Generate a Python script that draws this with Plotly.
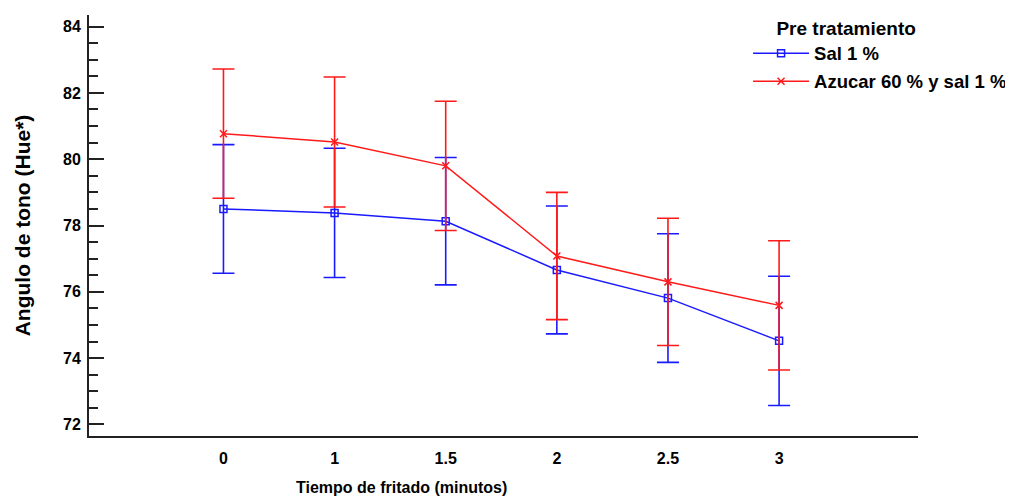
import plotly.graph_objects as go

x_labels = ["0", "1", "1.5", "2", "2.5", "3"]
sal_mean = [78.50, 78.38, 78.13, 76.66, 75.81, 74.52]
sal_err = [1.94, 1.95, 1.92, 1.93, 1.94, 1.95]
azucar_mean = [80.77, 80.52, 79.80, 77.08, 76.30, 75.59]
azucar_err = [1.95, 1.96, 1.95, 1.92, 1.92, 1.95]

series_names = ["Sal 1 %", "Azucar 60 % y sal 1 %"]
legend_title = "Pre tratamiento"
x_title = "Tiempo de fritado (minutos)"
y_title = "Angulo de tono (Hue*)"

FONT = "Liberation Sans, Arial, sans-serif"
BLUE = "#1a1aff"
RED = "#ff1a1a"

fig = go.Figure()
fig.add_trace(go.Scatter(
    x=x_labels, y=sal_mean, name=series_names[0], mode="lines+markers",
    legendgroup="g1",
    line=dict(color=BLUE, width=1.5),
    marker=dict(symbol="square-open", size=7, color=BLUE, line=dict(width=1.5, color=BLUE)),
    error_y=dict(type="data", array=sal_err, visible=True, color=BLUE, thickness=1.6, width=11),
))
fig.add_trace(go.Scatter(
    x=x_labels, y=azucar_mean, name=series_names[1], mode="lines+markers",
    legendgroup="g2",
    line=dict(color=RED, width=1.5),
    marker=dict(symbol="x-thin-open", size=7, color=RED, line=dict(width=1.5, color=RED)),
    error_y=dict(type="data", array=azucar_err, visible=True, color=RED, thickness=1.6, width=11),
))

fig.update_layout(
    width=1013, height=497,
    margin=dict(l=81, r=103, t=7, b=69, autoexpand=False),
    paper_bgcolor="white", plot_bgcolor="white",
    font=dict(family=FONT, color="black"),
    showlegend=True,
    legend=dict(
        x=0.795, y=1.012, xanchor="left", yanchor="top",
        bgcolor="rgba(0,0,0,0)",
        font=dict(family=FONT, size=18.5, color="black", weight="bold"),
        title=dict(text="\u00a0\u00a0\u00a0\u00a0\u00a0" + legend_title, side="top",
                   font=dict(family=FONT, size=19, color="black", weight="bold")),
        itemwidth=56,
        tracegroupgap=1,
    ),
    xaxis=dict(
        type="category", range=[-1.21, 6.25],
        showline=True, linecolor="#222222", linewidth=2,
        ticks="", showgrid=False, zeroline=False, ticklabelstandoff=7,
        tickfont=dict(family=FONT, size=16, color="black", weight="bold"),
    ),
    yaxis=dict(
        range=[71.65, 84.35], dtick=2, tick0=72,
        showline=True, linecolor="#222222", linewidth=2,
        ticks="inside", ticklen=15, tickwidth=1.5, tickcolor="#222222",
        minor=dict(dtick=0.5, ticks="inside", ticklen=9, tickwidth=1.5, tickcolor="#222222"),
        showgrid=False, zeroline=False, ticklabelstandoff=3,
        tickfont=dict(family=FONT, size=16, color="black", weight="bold"),
        title=dict(text=y_title, standoff=27,
                   font=dict(family=FONT, size=21, color="black", weight="bold")),
    ),
    annotations=[dict(
        text=x_title, xref="paper", yref="paper", x=0.377, y=0, yshift=-51,
        xanchor="center", yanchor="middle", showarrow=False,
        font=dict(family=FONT, size=16, color="black", weight="bold"),
    )],
)

fig.write_html("out.html")
